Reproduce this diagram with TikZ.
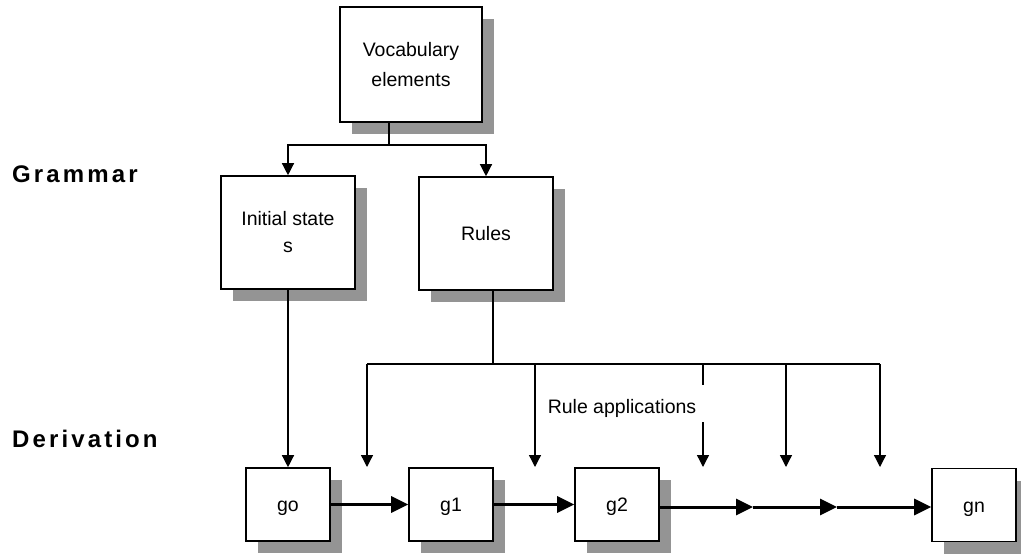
\documentclass[tikz,border=0pt]{standalone}
\usepackage{fontspec}
\setmainfont{Liberation Sans}
\newfontfamily\headfont{Liberation Sans}[LetterSpace=13]
\usetikzlibrary{arrows.meta,shadows}

\tikzset{
  stagebox/.style={draw, line width=1.6pt, fill=white, inner sep=0pt,
    align=center, font=\fontsize{19.5}{30}\selectfont,
    drop shadow={shadow xshift=12pt, shadow yshift=-12pt, fill=black!42, opacity=1}},
  smallbox/.style={stagebox, minimum width=84pt, minimum height=73pt,
    text height=14pt, text depth=0pt},
  headlabel/.style={anchor=base west, inner sep=0pt, font=\headfont\bfseries\fontsize{24}{28}\selectfont},
  feed/.style={line width=1.3pt, -{Triangle[length=12pt,width=12pt]}},
  wire/.style={line width=1.3pt},
  chain/.style={line width=3pt, -{Triangle[length=17pt,width=16pt]}},
}

\begin{document}
\begin{tikzpicture}[x=1pt,y=-1pt]
  \useasboundingbox (0,0) rectangle (1021,555);

  % row labels
  \node[headlabel] (gram) at (12,182) {Grammar};
  \node[headlabel] (deriv) at (12,447) {Derivation};

  % grammar boxes
  \node[stagebox, minimum width=142pt, minimum height=115pt] (voc) at (411,64.5) {Vocabulary\\elements};
  \node[stagebox, minimum width=134pt, minimum height=113pt, font=\fontsize{19.5}{27}\selectfont] (init) at (288,232.5) {Initial state\\s};
  \node[stagebox, minimum width=134pt, minimum height=113pt] (rules) at (486,233.5) {Rules};

  % derivation boxes
  \node[smallbox] (g0) at (288,504.5) {go};
  \node[smallbox] (g1) at (451,504.5) {g1};
  \node[smallbox] (g2) at (617,504.5) {g2};
  \node[smallbox] (gn) at (974,505) {gn};

  % vocabulary feeds initial state and rules
  \coordinate (vj) at (389,145);
  \draw[wire] (voc.south -| vj) -- (vj);
  \draw[feed] (vj) -| (init.north);
  \draw[feed] (vj) -| (rules.north);

  % initial state gives the first string
  \draw[feed] (init.south) -- (g0.north);

  % rules distributed along the derivation
  \coordinate (rj) at (493,364);
  \coordinate (t1) at (367,364);
  \coordinate (t2) at (535,364);
  \coordinate (t3) at (703,364);
  \coordinate (t4) at (786,364);
  \coordinate (t5) at (880,364);
  \coordinate (d1) at (367,467);
  \coordinate (d2) at (535,467);
  \coordinate (d3) at (703,467);
  \coordinate (d4) at (786,467);
  \coordinate (d5) at (880,467);
  \coordinate (b3) at (703,385);
  \coordinate (c3) at (703,422);
  \draw[wire] (rules.south -| rj) -- (rj);
  \draw[wire] (t1) -- (t5);
  \draw[feed] (t1) -- (d1);
  \draw[feed] (t2) -- (d2);
  \draw[wire] (t3) -- (b3);
  \draw[feed] (c3) -- (d3);
  \draw[feed] (t4) -- (d4);
  \draw[feed] (t5) -- (d5);
  \node[font=\fontsize{19.5}{24}\selectfont, inner sep=0pt] (ra) at (622,408) {Rule applications};

  % derivation chain
  \coordinate (m1) at (753,507);
  \coordinate (m2) at (837,507);
  \draw[chain] (g0.east) -- (g1.west);
  \draw[chain] (g1.east) -- (g2.west);
  \draw[chain] (g2.east |- m1) -- (m1);
  \draw[chain] (m1) -- (m2);
  \draw[chain] (m2) -- (gn.west |- m2);
\end{tikzpicture}
\end{document}
